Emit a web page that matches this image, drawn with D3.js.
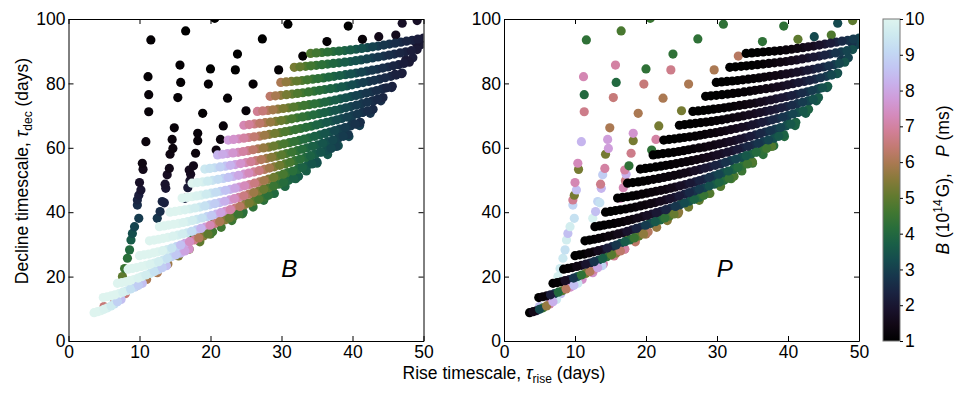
<!DOCTYPE html>
<html>
<head>
<meta charset="utf-8">
<script src="https://cdn.jsdelivr.net/npm/d3@7"></script>
<style>
  body { margin: 0; background: #fff; }
  text { font-family: "Liberation Sans", Arial, sans-serif; }
</style>
</head>
<body>
<script>
// each model: [tau_rise (days), tau_dec (days), B (1e14 G), P (ms)]

// sparse models, low B: long decline tails
const sparseModels = [
  [7.6,20.0,5.0,9.8],[7.9,22.5,4.5,9.6],[8.3,25.7,4.2,9.5],[8.6,28.3,4.0,9.3],[8.8,31.4,3.6,9.7],
  [9.0,33.4,3.3,8.5],[9.3,35.5,3.1,9.7],[9.9,38.1,2.9,9.3],[9.7,42.2,2.6,9.0],[9.7,43.8,2.4,6.8],
  [9.9,45.3,2.2,5.3],[10.2,46.9,2.0,8.5],[10.0,49.2,1.8,7.2],[10.5,53.3,1.5,5.3],[10.4,55.2,1.4,7.3],
  [10.9,61.9,1.3,8.3],[11.3,71.2,1.2,6.7],[11.3,76.5,1.2,4.0],[11.2,82.1,1.1,7.2],[11.6,93.5,1.1,4.3],
  [12.5,38.1,2.8,9.8],[12.9,40.2,2.6,8.5],[13.2,43.3,2.4,9.0],[13.5,42.9,2.3,9.3],[13.7,47.4,2.0,8.3],
  [13.6,48.7,1.9,6.7],[13.9,51.6,1.7,8.8],[14.2,53.6,1.5,7.0],[14.3,58.0,1.4,5.3],[14.7,59.8,1.3,7.8],
  [14.6,62.6,1.3,7.8],[14.9,66.2,1.2,6.0],[15.4,75.6,1.1,6.5],[15.8,80.3,1.1,4.0],[15.7,85.7,1.1,7.0],
  [16.5,96.3,1.0,4.7],
  [16.4,44.3,2.4,7.3],[16.8,47.6,2.1,7.2],[17.1,49.8,1.9,6.6],[17.2,51.8,1.7,8.2],[17.0,53.1,1.6,7.0],
  [17.6,54.4,1.5,4.3],[17.9,58.3,1.3,6.7],[18.2,62.2,1.2,5.3],[18.2,64.5,1.2,7.6],[18.9,70.7,1.1,6.0],
  [19.7,79.8,1.1,6.5],[20.0,84.5,1.0,4.3],[20.6,100.2,1.0,4.5],
  [20.8,59.3,1.4,4.3],[21.4,62.6,1.3,7.0],[21.8,66.8,1.2,5.3],[22.4,75.4,1.1,6.0],[23.5,84.2,1.0,6.7],
  [23.8,89.1,1.0,4.3],[25.0,71.5,1.2,5.3],[26.0,79.8,1.1,6.0],[27.3,93.8,1.0,4.3],[29.6,84.2,1.1,6.0],
  [30.9,98.4,1.0,4.3],[33.0,88.5,1.1,6.2],[36.4,93.0,1.1,4.3],[39.4,97.8,1.0,4.3],[41.4,93.7,1.2,5.0],
  [43.7,94.5,1.5,3.2],[46.1,95.0,1.6,4.8],[47.0,98.7,1.8,3.2],[49.1,99.5,1.8,5.0]
]

// models along the lower edge of the distribution
const edgeModels = [
  [5.0,10.7,6.5,8.5],[6.5,12.6,6.5,8.5],[8.0,14.7,6.5,8.5],[9.5,17.0,6.2,7.8],[11.0,19.1,6.0,7.5],
  [12.5,21.2,6.0,7.5],[14.0,23.9,5.8,7.2],[15.5,26.4,5.4,6.8],[17.0,28.5,5.2,6.5],[18.5,30.8,5.0,6.3],
  [20.0,33.2,4.8,6.0],[21.5,35.3,4.6,5.7],[23.0,37.4,4.5,5.5],[24.5,39.5,4.4,5.4],[26.0,41.6,4.3,5.2],
  [27.5,43.7,4.2,5.0],[29.0,45.8,4.0,4.9],[30.5,48.0,3.9,4.8],[32.0,50.4,3.8,4.6],[33.5,52.8,3.7,4.5],
  [35.0,55.2,3.6,4.4],[36.5,57.9,3.5,4.2],[38.0,60.6,3.3,4.1],[39.5,63.5,3.1,4.0],[41.0,66.9,2.9,3.8],
  [42.5,70.7,2.7,3.6],[44.0,74.6,2.6,3.5],[45.5,78.7,2.4,3.3],[47.0,83.2,2.3,3.2],[48.5,88.0,2.2,3.1],
  [49.6,92.0,2.1,3.0]
]

// a second strand just above the edge
const edgeUpper = [
  [16.0,29.7,4.6,5.2],[17.5,31.8,4.5,5.0],[19.0,34.2,4.5,5.0],[20.5,36.5,4.4,4.9],[22.0,38.6,4.4,4.8],
  [23.5,40.7,4.3,4.7],[25.0,42.8,4.2,4.6],[26.5,44.9,3.9,4.4],[28.0,47.0,3.8,4.3],[29.5,49.1,3.8,4.3],
  [31.0,51.4,3.7,4.2],[32.5,53.8,3.6,4.1],[34.0,56.2,3.5,4.0],[35.5,58.7,3.2,3.8],[37.0,61.4,3.0,3.6],
  [38.5,64.5,2.9,3.5],[40.0,67.8,2.8,3.4],[41.5,71.1,2.6,3.2],[43.0,74.6,2.4,3.0],[44.5,78.5,2.3,2.9],
  [46.0,82.8,2.2,2.8],[47.5,87.3,2.1,2.8],[49.0,92.5,2.0,2.7]
]

// ejecta-mass tracks, short decline times
const lowRows = [
  [3.6,8.8,10,1],[4.55,9.4,10,2],[5.5,10.3,9.8,4.5],[6.45,11.5,9.3,7],[7.4,12.9,8.5,9.5],
  [4.9,13.5,10,1],[6.0,14.0,10,1.5],[7.1,14.7,10,3],[8.2,15.6,9.6,5],[9.3,16.7,9.0,7.5],[10.4,17.9,8.5,9.5],
  [6.9,17.9,10,1],[8.05,18.4,10,1.3],[9.2,19.1,10,2.2],[10.35,20.0,9.8,3.5],[11.5,21.0,9.5,5.2],
  [12.65,22.1,9.0,7],[13.8,23.4,8.5,9],
  [8.4,22.3,10,1],[9.6,22.8,10,1.2],[10.9,23.5,10,1.6],[12.1,24.2,9.8,2.3],[13.3,25.1,9.5,3.2],
  [14.5,26.2,9.0,4.3],[15.8,27.3,8.3,5.6],[17.0,28.6,7.5,7],
  [10.0,26.5,10,1],[11.3,27.0,10,1.1],[12.6,27.7,10,1.4],[13.9,28.4,9.7,1.9],[15.2,29.3,9.0,2.5],
  [16.4,30.3,8.0,3.2],[17.7,31.4,6.8,4.0],[19.0,32.6,5.5,5.0],[20.3,33.9,4.6,6.2],
  [11.4,31.1,10,1],[12.7,31.6,10,1.1],[14.0,32.2,10,1.2],[15.4,32.9,9.8,1.4],[16.7,33.6,9.5,1.7],
  [18.0,34.5,8.8,2.1],[19.3,35.4,7.8,2.6],[20.6,36.5,6.6,3.2],[22.0,37.6,5.5,3.9],[23.3,38.8,4.8,4.7],
  [24.6,40.1,4.2,5.6],
  [12.8,35.5,10,1],[14.1,36.0,10,1],[15.5,36.5,10,1.1],[16.8,37.1,9.8,1.2],[18.1,37.8,9.5,1.4],
  [19.5,38.6,9.0,1.6],[20.8,39.4,8.3,1.9],[22.1,40.3,7.5,2.2],[23.5,41.3,6.6,2.6],[24.8,42.3,5.7,3.0],
  [26.1,43.4,5.0,3.5],[27.5,44.6,4.4,4.1],[28.8,45.9,4.0,4.8]
]

const lowRowsFill = [
  [4.1,9.1,10,1.5],[5.0,9.85,9.9,3.2],[6.0,10.9,9.6,5.7],[6.9,12.2,8.9,8.2],
  [5.45,13.75,10,1.2],[6.55,14.35,10,2.2],[7.65,15.15,9.8,4],[8.75,16.15,9.3,6.2],[9.85,17.3,8.8,8.5],
  [7.5,18.15,10,1.1],[8.6,18.75,10,1.7],[9.8,19.55,9.9,2.8],[10.9,20.5,9.7,4.3],[12.1,21.55,9.3,6.1],
  [13.2,22.75,8.8,8],
  [9.0,22.55,10,1.1],[10.25,23.15,10,1.4],[11.5,23.85,9.9,1.9],[12.7,24.65,9.7,2.7],[13.9,25.65,9.3,3.7],
  [15.15,26.75,8.7,4.9],[16.4,27.95,7.9,6.3],
  [10.65,26.75,10,1.05],[11.95,27.35,10,1.25],[13.25,28.05,9.9,1.6],[14.55,28.85,9.4,2.2],[15.8,29.8,8.5,2.8],
  [17.05,30.85,7.4,3.6],[18.35,32.0,6.1,4.5],[19.65,33.25,5.0,5.6],
  [12.05,31.35,10,1.05],[13.35,31.9,10,1.15],[14.7,32.55,9.9,1.3],[16.05,33.25,9.7,1.55],[17.35,34.05,9.2,1.9],
  [18.65,34.95,8.3,2.35],[19.95,35.95,7.2,2.9],[21.3,37.05,6.0,3.55],[22.65,38.2,5.1,4.3],[23.95,39.45,4.5,5.1],
  [13.45,35.75,10,1],[14.8,36.25,10,1.05],[16.15,36.8,9.9,1.15],[17.45,37.45,9.7,1.3],[18.8,38.2,9.3,1.5],
  [20.15,39.0,8.7,1.75],[21.45,39.85,7.9,2.05],[22.8,40.8,7.1,2.4],[24.15,41.8,6.2,2.8],[25.45,42.85,5.3,3.25],
  [26.8,44.0,4.7,3.8],[28.15,45.25,4.2,4.45]
]

const midRows = [
  [14.3,40.0,10,1],[15.7,40.5,10,1],[17.1,41.0,9.8,1.1],[18.5,41.6,9.5,1.2],[19.9,42.3,9.0,1.3],
  [21.3,43.0,8.5,1.5],[22.7,43.8,7.8,1.7],[24.0,44.6,7.0,2.0],[25.4,45.6,6.2,2.3],[26.8,46.6,5.4,2.7],
  [28.2,47.6,4.8,3.1],[29.6,48.7,4.3,3.6],[31.0,49.9,3.9,4.1],[32.4,51.2,3.6,4.7],
  [16.0,44.4,10,1],[17.4,44.8,10,1],[18.7,45.3,9.8,1.1],[20.1,45.9,9.4,1.2],[21.4,46.5,8.9,1.3],
  [22.8,47.1,8.3,1.4],[24.1,47.8,7.6,1.6],[25.5,48.6,6.9,1.9],[26.9,49.4,6.2,2.2],[28.2,50.3,5.5,2.5],
  [29.6,51.3,4.9,2.9],[30.9,52.3,4.4,3.3],[32.3,53.3,4.0,3.8],[33.6,54.4,3.6,4.3],[35.0,55.6,3.3,4.8],
  [17.4,49.0,10,1],[18.9,49.4,9.8,1],[20.3,49.9,9.4,1.1],[21.8,50.5,8.9,1.2],[23.2,51.1,8.3,1.3],
  [24.7,51.8,7.6,1.4],[26.1,52.5,6.9,1.6],[27.6,53.3,6.2,1.9],[29.0,54.1,5.5,2.2],[30.5,55.0,4.9,2.5],
  [31.9,56.0,4.4,2.9],[33.4,57.0,4.0,3.3],[34.8,58.1,3.6,3.8],[36.3,59.2,3.3,4.3],[37.7,60.4,3.0,4.8],
  [19.2,53.4,9.5,1],[20.6,53.8,9.2,1],[22.1,54.3,8.6,1.05],[23.5,54.8,7.9,1.1],[25.0,55.4,7.2,1.2],
  [26.4,56.0,6.5,1.3],[27.9,56.7,5.8,1.45],[29.3,57.4,5.2,1.6],[30.7,58.2,4.7,1.8],[32.2,59.1,4.3,2.0],
  [33.6,60.0,3.9,2.3],[35.1,60.9,3.6,2.6],[36.5,61.9,3.3,2.9],[38.0,63.0,3.0,3.3],[39.4,64.1,2.8,3.8],
  [21.0,57.8,8.3,1],[22.4,58.2,7.9,1],[23.9,58.6,7.3,1.05],[25.3,59.1,6.7,1.1],[26.7,59.7,6.0,1.2],
  [28.2,60.2,5.4,1.3],[29.6,60.9,4.9,1.45],[31.1,61.6,4.5,1.6],[32.5,62.3,4.2,1.8],[33.9,63.1,3.9,2.0],
  [35.4,64.0,3.6,2.3],[36.8,64.9,3.3,2.6],[38.2,65.8,3.0,2.9],[39.7,66.8,2.8,3.3],[41.1,67.9,2.6,3.8],
  [22.5,62.4,7.8,1],[24.0,62.8,7.3,1],[25.4,63.2,6.7,1.05],[26.9,63.6,6.1,1.1],[28.3,64.2,5.5,1.2],
  [29.8,64.7,5.0,1.3],[31.2,65.3,4.6,1.45],[32.7,66.0,4.3,1.6],[34.2,66.7,4.0,1.8],[35.6,67.5,3.7,2.0],
  [37.1,68.3,3.4,2.3],[38.5,69.1,3.1,2.6],[40.0,70.0,2.9,2.9],[41.4,71.0,2.7,3.3],[42.9,72.0,2.5,3.8]
]

const midRowsFill = [
  [15.0,40.25,10,1],[16.4,40.75,9.9,1.05],[17.8,41.3,9.7,1.15],[19.2,41.95,9.3,1.25],[20.6,42.65,8.8,1.4],
  [22.0,43.4,8.2,1.6],[23.35,44.2,7.4,1.85],[24.7,45.1,6.6,2.15],[26.1,46.1,5.8,2.5],[27.5,47.1,5.1,2.9],
  [28.9,48.15,4.5,3.35],[30.3,49.3,4.1,3.85],[31.7,50.55,3.75,4.4],
  [16.7,44.6,10,1],[18.05,45.05,9.9,1.05],[19.4,45.6,9.6,1.15],[20.75,46.2,9.2,1.25],[22.1,46.8,8.6,1.35],
  [23.45,47.45,8.0,1.5],[24.8,48.2,7.3,1.75],[26.2,49.0,6.6,2.05],[27.55,49.85,5.9,2.35],[28.9,50.8,5.2,2.7],
  [30.25,51.8,4.7,3.1],[31.6,52.8,4.2,3.55],[32.95,53.85,3.8,4.05],[34.3,55.0,3.45,4.55],
  [18.15,49.2,9.9,1],[19.6,49.65,9.6,1.05],[21.05,50.2,9.2,1.15],[22.5,50.8,8.6,1.25],[23.95,51.45,8.0,1.35],
  [25.4,52.15,7.3,1.5],[26.85,52.9,6.6,1.75],[28.3,53.7,5.9,2.05],[29.75,54.55,5.2,2.35],[31.2,55.5,4.7,2.7],
  [32.65,56.5,4.2,3.1],[34.1,57.55,3.8,3.55],[35.55,58.65,3.45,4.05],[37.0,59.8,3.15,4.55],
  [19.9,53.6,9.35,1],[21.35,54.05,8.9,1.02],[22.8,54.55,8.25,1.08],[24.25,55.1,7.55,1.15],[25.7,55.7,6.85,1.25],
  [27.15,56.35,6.15,1.38],[28.6,57.05,5.5,1.52],[30.0,57.8,4.95,1.7],[31.45,58.65,4.5,1.9],[32.9,59.55,4.1,2.15],
  [34.35,60.45,3.75,2.45],[35.8,61.4,3.45,2.75],[37.25,62.45,3.15,3.1],[38.7,63.55,2.9,3.55],
  [21.7,58.0,8.1,1],[23.15,58.4,7.6,1.02],[24.6,58.85,7.0,1.08],[26.0,59.4,6.35,1.15],[27.45,59.95,5.7,1.25],
  [28.9,60.55,5.15,1.38],[30.35,61.25,4.7,1.52],[31.8,61.95,4.35,1.7],[33.2,62.7,4.05,1.9],[34.65,63.55,3.75,2.15],
  [36.1,64.45,3.45,2.45],[37.5,65.35,3.15,2.75],[38.95,66.3,2.9,3.1],[40.4,67.35,2.7,3.55],
  [23.25,62.6,7.55,1],[24.7,63.0,7.0,1.02],[26.15,63.4,6.4,1.08],[27.6,63.9,5.8,1.15],[29.05,64.45,5.25,1.25],
  [30.5,65.0,4.8,1.38],[31.95,65.65,4.45,1.52],[33.45,66.35,4.15,1.7],[34.9,67.1,3.85,1.9],[36.35,67.9,3.55,2.15],
  [37.8,68.7,3.25,2.45],[39.25,69.55,3.0,2.75],[40.7,70.5,2.8,3.1],[42.15,71.5,2.6,3.55]
]

const highRows = [
  [24.7,67.0,7.2,1],[26.2,67.4,6.6,1],[27.7,67.8,6.0,1.05],[29.2,68.2,5.4,1.1],[30.7,68.7,4.9,1.2],
  [32.2,69.3,4.5,1.35],[33.7,69.9,4.2,1.5],[35.3,70.6,3.9,1.7],[36.8,71.3,3.6,1.9],[38.3,72.0,3.3,2.1],
  [39.8,72.8,3.0,2.4],[41.3,73.7,2.8,2.7],[42.8,74.6,2.6,3.1],[44.3,75.6,2.4,3.6],
  [26.6,71.3,6.8,1],[28.1,71.6,6.2,1],[29.5,72.0,5.6,1.05],[31.0,72.4,5.1,1.1],[32.4,72.9,4.7,1.2],
  [33.9,73.4,4.4,1.35],[35.4,73.9,4.1,1.5],[36.8,74.5,3.8,1.7],[38.3,75.2,3.5,1.9],[39.8,75.9,3.2,2.1],
  [41.2,76.6,2.9,2.4],[42.7,77.4,2.7,2.7],[44.1,78.2,2.5,3.1],[45.6,79.1,2.3,3.6],
  [28.4,76.0,6.3,1],[29.9,76.3,5.6,1],[31.5,76.7,5.0,1.05],[33.0,77.1,4.6,1.1],[34.6,77.6,4.3,1.2],
  [36.1,78.1,4.0,1.35],[37.7,78.6,3.7,1.5],[39.2,79.2,3.4,1.7],[40.7,79.9,3.1,1.9],[42.3,80.6,2.8,2.2],
  [43.8,81.3,2.6,2.5],[45.4,82.2,2.4,2.9],[46.9,83.0,2.2,3.4],
  [29.9,80.3,6.0,1],[31.4,80.6,5.3,1],[32.9,80.9,4.8,1.05],[34.4,81.3,4.4,1.1],[35.9,81.7,4.1,1.2],
  [37.4,82.2,3.8,1.35],[39.0,82.7,3.5,1.5],[40.5,83.2,3.2,1.7],[42.0,83.8,2.9,1.9],[43.5,84.4,2.7,2.2],
  [45.0,85.1,2.5,2.5],[46.5,85.8,2.3,2.9],[48.0,86.6,2.1,3.4],
  [31.8,85.0,5.3,1],[33.4,85.3,4.8,1],[34.9,85.6,4.4,1.05],[36.5,86.0,4.1,1.15],[38.1,86.4,3.8,1.3],
  [39.7,86.8,3.5,1.45],[41.2,87.3,3.2,1.65],[42.8,87.9,2.9,1.9],[44.4,88.5,2.7,2.2],[45.9,89.1,2.5,2.5],
  [47.5,89.8,2.3,2.9],[49.1,90.5,2.1,3.3],
  [34.1,89.3,4.8,1],[35.7,89.6,4.4,1],[37.3,89.9,4.1,1.05],[38.9,90.2,3.8,1.15],[40.5,90.6,3.5,1.3],
  [42.1,91.1,3.2,1.5],[43.6,91.6,2.9,1.7],[45.2,92.2,2.7,2.0],[46.8,92.8,2.5,2.3],[48.4,93.4,2.3,2.7],
  [50.0,94.1,2.1,3.1]
]

const highRowsFill = [
  [25.45,67.2,6.9,1],[26.95,67.6,6.3,1.02],[28.45,68.0,5.7,1.08],[29.95,68.45,5.15,1.15],[31.45,69.0,4.7,1.28],
  [32.95,69.6,4.35,1.42],[34.5,70.25,4.05,1.6],[36.05,70.95,3.75,1.8],[37.55,71.65,3.45,2.0],[39.05,72.4,3.15,2.25],
  [40.55,73.25,2.9,2.55],[42.05,74.15,2.7,2.9],[43.55,75.1,2.5,3.35],
  [27.35,71.45,6.5,1],[28.8,71.8,5.9,1.02],[30.25,72.2,5.35,1.08],[31.7,72.65,4.9,1.15],[33.15,73.15,4.55,1.28],
  [34.65,73.65,4.25,1.42],[36.1,74.2,3.95,1.6],[37.55,74.85,3.65,1.8],[39.05,75.55,3.35,2.0],[40.5,76.25,3.05,2.25],
  [41.95,77.0,2.8,2.55],[43.4,77.8,2.6,2.9],[44.85,78.65,2.4,3.35],
  [29.15,76.15,5.95,1],[30.7,76.5,5.3,1.02],[32.25,76.9,4.8,1.08],[33.8,77.35,4.45,1.15],[35.35,77.85,4.15,1.28],
  [36.9,78.35,3.85,1.42],[38.45,78.9,3.55,1.6],[39.95,79.55,3.25,1.8],[41.5,80.25,2.95,2.05],[43.05,80.95,2.7,2.35],
  [44.6,81.75,2.5,2.7],[46.15,82.6,2.3,3.15],
  [30.65,80.45,5.65,1],[32.15,80.75,5.05,1.02],[33.65,81.1,4.6,1.08],[35.15,81.5,4.25,1.15],[36.65,81.95,3.95,1.28],
  [38.2,82.45,3.65,1.42],[39.75,82.95,3.35,1.6],[41.25,83.5,3.05,1.8],[42.75,84.1,2.8,2.05],[44.25,84.75,2.6,2.35],
  [45.75,85.45,2.4,2.7],[47.25,86.2,2.2,3.15],
  [32.6,85.15,5.05,1],[34.15,85.45,4.6,1.02],[35.7,85.8,4.25,1.1],[37.3,86.2,3.95,1.22],[38.9,86.6,3.65,1.38],
  [40.45,87.05,3.35,1.55],[42.0,87.6,3.05,1.78],[43.6,88.2,2.8,2.05],[45.15,88.8,2.6,2.35],[46.7,89.45,2.4,2.7],
  [48.3,90.15,2.2,3.1],
  [34.9,89.45,4.6,1],[36.5,89.75,4.25,1.02],[38.1,90.05,3.95,1.1],[39.7,90.4,3.65,1.22],[41.3,90.85,3.35,1.4],
  [42.85,91.35,3.05,1.6],[44.4,91.9,2.8,1.85],[46.0,92.5,2.6,2.15],[47.6,93.1,2.4,2.5],[49.2,93.75,2.2,2.9]
]

const xTicks = [0, 10, 20, 30, 40, 50]
const yTicks = [0, 20, 40, 60, 80, 100]
const cbarTicks = [1, 2, 3, 4, 5, 6, 7, 8, 9, 10]

const models = [
  ...sparseModels, ...edgeModels, ...edgeUpper,
  ...lowRows, ...lowRowsFill, ...midRows, ...midRowsFill, ...highRows, ...highRowsFill
]

const width = 355
const height = 322
const marginTop = 19

const svg = d3.select('body').append('svg')
  .attr('width', 980)
  .attr('height', 393)

const xScale = d3.scaleLinear().domain([0, 50]).range([0, width])
const yScale = d3.scaleLinear().domain([0, 100]).range([height, 0])
// cubehelix, stopping just short of pure white
const helix = t => d3.interpolateCubehelixDefault(t * 0.93)
const color = d3.scaleSequential(helix).domain([1, 10])

const panels = [
  {name: 'B', col: 2, left: 68.5},
  {name: 'P', col: 3, left: 504}
]

panels.forEach((p, i) => {
  const g = svg.append('g').attr('transform', `translate(${p.left},${marginTop})`)

  g.append('clipPath').attr('id', 'clip' + i)
    .append('rect').attr('width', width).attr('height', height)

  g.append('g').attr('clip-path', `url(#clip${i})`)
    .selectAll('circle')
    .data(models)
    .join('circle')
    .attr('cx', d => xScale(d[0]))
    .attr('cy', d => yScale(d[1]))
    .attr('r', 4.6)
    .attr('fill', d => color(d[p.col]))

  // axes, ticks pointing in on all four sides
  g.append('g').attr('transform', `translate(0,${height})`)
    .call(d3.axisBottom(xScale).tickValues(xTicks).tickSizeInner(-5).tickSizeOuter(0).tickPadding(5))
  g.append('g')
    .call(d3.axisLeft(yScale).tickValues(yTicks).tickSizeInner(-5).tickSizeOuter(0).tickPadding(3))
  g.append('g')
    .call(d3.axisTop(xScale).tickValues(xTicks).tickSizeInner(-5).tickSizeOuter(0).tickFormat(''))
  g.append('g').attr('transform', `translate(${width},0)`)
    .call(d3.axisRight(yScale).tickValues(yTicks).tickSizeInner(-5).tickSizeOuter(0).tickFormat(''))

  g.selectAll('.tick text')
    .attr('font-family', '"Liberation Sans", Arial, sans-serif')
    .attr('font-size', 17.5)
    .attr('fill', '#000')
  g.selectAll('.domain, .tick line').attr('stroke', '#000')

  g.append('text')
    .attr('x', xScale(31.1))
    .attr('y', yScale(20))
    .attr('text-anchor', 'middle')
    .attr('font-size', 24)
    .attr('font-style', 'italic')
    .text(p.name)
})

// axis titles
const xTitle = svg.append('text')
  .attr('x', 504)
  .attr('y', 379)
  .attr('text-anchor', 'middle')
  .attr('font-size', 17.5)
xTitle.append('tspan').text('Rise timescale, ')
xTitle.append('tspan').attr('font-style', 'italic').text('τ')
xTitle.append('tspan').attr('font-size', 12).attr('dy', 4).text('rise')
xTitle.append('tspan').attr('dy', -4).text(' (days)')

const yTitle = svg.append('text')
  .attr('transform', 'translate(28,171) rotate(-90)')
  .attr('text-anchor', 'middle')
  .attr('font-size', 17.5)
yTitle.append('tspan').text('Decline timescale, ')
yTitle.append('tspan').attr('font-style', 'italic').text('τ')
yTitle.append('tspan').attr('font-size', 12).attr('dy', 4).text('dec')
yTitle.append('tspan').attr('dy', -4).text(' (days)')

// colour bar
const cbX = 883
const cbW = 17
const cbScale = d3.scaleLinear().domain([1, 10]).range([marginTop + height, marginTop])

const grad = svg.append('defs').append('linearGradient')
  .attr('id', 'cbar').attr('x1', 0).attr('y1', 1).attr('x2', 0).attr('y2', 0)
d3.range(0, 1.0001, 0.05).forEach(t => {
  grad.append('stop').attr('offset', t).attr('stop-color', helix(t))
})

svg.append('rect')
  .attr('x', cbX).attr('y', marginTop)
  .attr('width', cbW).attr('height', height)
  .attr('fill', 'url(#cbar)')
  .attr('stroke', '#777').attr('stroke-width', 1)

const cbAxis = svg.append('g').attr('transform', `translate(${cbX + cbW},0)`)
  .call(d3.axisRight(cbScale).tickValues(cbarTicks).tickSizeInner(3).tickSizeOuter(0).tickPadding(2))
cbAxis.select('.domain').remove()
cbAxis.selectAll('.tick line').attr('stroke', '#000')
cbAxis.selectAll('.tick text')
  .attr('font-family', '"Liberation Sans", Arial, sans-serif')
  .attr('font-size', 17.5)
  .attr('fill', '#000')

const cbTitle = svg.append('text')
  .attr('transform', 'translate(949,180) rotate(-90)')
  .attr('text-anchor', 'middle')
  .attr('font-size', 17.5)
cbTitle.append('tspan').attr('font-style', 'italic').text('B')
cbTitle.append('tspan').text(' (10')
cbTitle.append('tspan').attr('font-size', 12).attr('dy', -7).text('14')
cbTitle.append('tspan').attr('dy', 7).attr('dx', 2).text('G),')
cbTitle.append('tspan').attr('dx', 16).attr('font-style', 'italic').text('P')
cbTitle.append('tspan').text(' (ms)')
</script>
</body>
</html>
